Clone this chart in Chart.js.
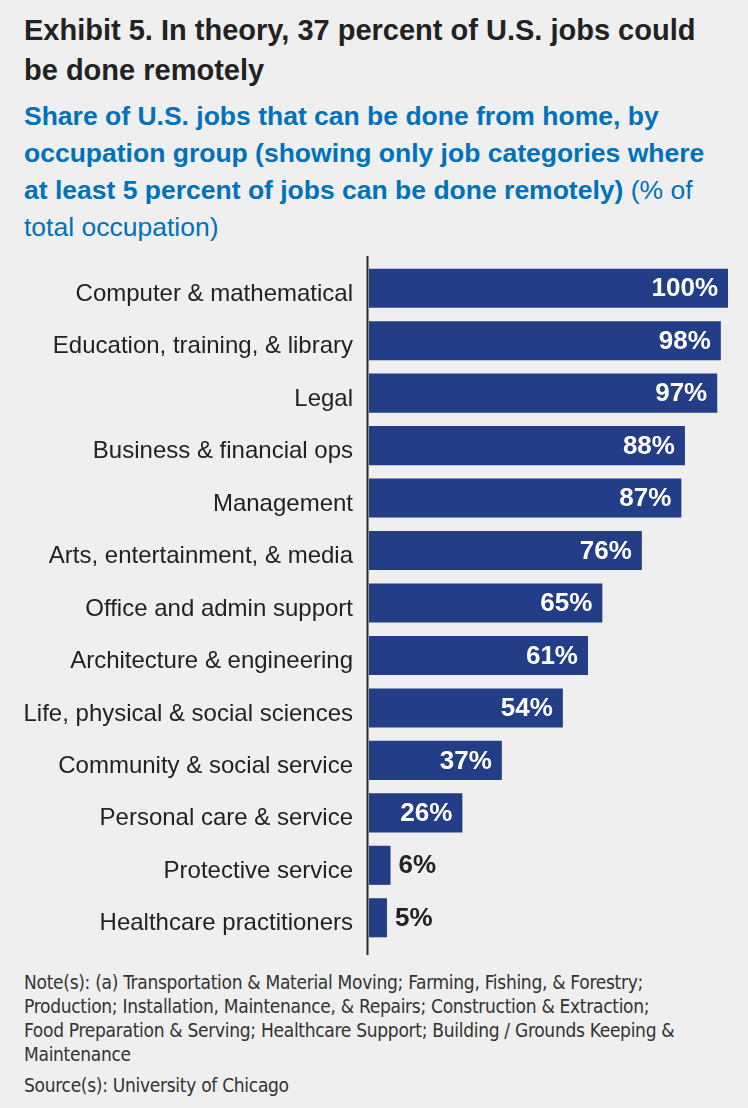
<!DOCTYPE html>
<html>
<head>
<meta charset="utf-8">
<script src="https://cdn.jsdelivr.net/npm/chart.js@4.4.1/dist/chart.umd.min.js"></script>
<style>
  html, body { margin: 0; padding: 0; background: #efefef; }
  body { width: 748px; height: 1108px; position: relative; overflow: hidden; font-family: "Liberation Sans", Arial, sans-serif; }
  #title { position: absolute; left: 24px; top: 10px; font-size: 29px; line-height: 40px; font-weight: bold; color: #222; }
  #subtitle { position: absolute; left: 24px; top: 98px; font-size: 26.5px; line-height: 37px; color: #0071bb; white-space: nowrap; }
  #subtitle b { font-weight: bold; }
  #chartBox { position: absolute; left: 0; top: 250px; width: 748px; height: 710px; }
  .note { position: absolute; left: 24px; font-family: "DejaVu Sans Condensed", "Liberation Sans Narrow", sans-serif; font-size: 19px; letter-spacing: -0.3px; line-height: 24px; color: #333; white-space: nowrap; }
</style>
</head>
<body>
<div id="title">Exhibit 5. In theory, 37 percent of U.S. jobs could<br>be done remotely</div>
<div id="subtitle"><b>Share of U.S. jobs that can be done from home, by<br>occupation group (showing only job categories where<br>at least 5 percent of jobs can be done remotely)</b> (% of<br>total occupation)</div>
<div id="chartBox"><canvas id="jobsChart"></canvas></div>
<div class="note" style="top: 970px;">Note(s): (a) Transportation &amp; Material Moving; Farming, Fishing, &amp; Forestry;<br>Production; Installation, Maintenance, &amp; Repairs; Construction &amp; Extraction;<br>Food Preparation &amp; Serving; Healthcare Support; Building / Grounds Keeping &amp;<br>Maintenance</div>
<div class="note" style="top: 1073px;">Source(s): University of Chicago</div>

<script>
// Occupation groups and share of jobs that can be done from home (%)
const occupations = [
    'Computer & mathematical',
    'Education, training, & library',
    'Legal',
    'Business & financial ops',
    'Management',
    'Arts, entertainment, & media',
    'Office and admin support',
    'Architecture & engineering',
    'Life, physical & social sciences',
    'Community & social service',
    'Personal care & service',
    'Protective service',
    'Healthcare practitioners'
];
const remoteShare = [100, 98, 97, 88, 87, 76, 65, 61, 54, 37, 26, 6, 5];

// Vertical axis line, a bit taller than the bar area
const axisLine = {
    id: 'axisLine',
    afterDatasetsDraw(chart) {
        const { ctx, chartArea } = chart;
        ctx.save();
        ctx.strokeStyle = '#2a2a2a';
        ctx.lineWidth = 2;
        ctx.beginPath();
        ctx.moveTo(chartArea.left - 1.5, chartArea.top - 6);
        ctx.lineTo(chartArea.left - 1.5, chartArea.bottom + 11);
        ctx.stroke();
        ctx.restore();
    }
};

// Percent labels: inside the bar for long bars, just outside for short ones
const valueLabels = {
    id: 'valueLabels',
    afterDatasetsDraw(chart) {
        const { ctx } = chart;
        const meta = chart.getDatasetMeta(0);
        ctx.save();
        ctx.font = 'bold 26px "Liberation Sans", Arial, sans-serif';
        ctx.textBaseline = 'middle';
        meta.data.forEach((bar, i) => {
            const v = remoteShare[i];
            const text = v + '%';
            if (v >= 20) {
                ctx.fillStyle = '#ffffff';
                ctx.textAlign = 'right';
                ctx.fillText(text, bar.x - 10, bar.y + 1);
            } else {
                ctx.fillStyle = '#222222';
                ctx.textAlign = 'left';
                ctx.fillText(text, bar.x + 8, bar.y + 1);
            }
        });
        ctx.restore();
    }
};

const ctx = document.getElementById('jobsChart').getContext('2d');
new Chart(ctx, {
    type: 'bar',
    data: {
        labels: occupations,
        datasets: [{
            data: remoteShare,
            backgroundColor: '#233d86',
            borderWidth: 0,
            categoryPercentage: 1,
            barPercentage: 0.745
        }]
    },
    options: {
        indexAxis: 'y',
        responsive: true,
        maintainAspectRatio: false,
        animation: false,
        layout: { padding: { top: 12, bottom: 16, right: 20, left: 0 } },
        plugins: {
            legend: { display: false },
            tooltip: { enabled: false }
        },
        scales: {
            x: {
                display: false,
                min: 0,
                max: 100
            },
            y: {
                afterFit(scale) {
                    scale.width = 369;
                    // keep label half-heights from pushing the bars inward
                    scale.paddingTop = 0;
                    scale.paddingBottom = 0;
                },
                grid: { display: false, drawTicks: false },
                border: { display: false },
                ticks: {
                    padding: 16,
                    labelOffset: 6,
                    color: '#222',
                    font: { family: '"Liberation Sans", Arial, sans-serif', size: 24 }
                }
            }
        }
    },
    plugins: [axisLine, valueLabels]
});
</script>
</body>
</html>
